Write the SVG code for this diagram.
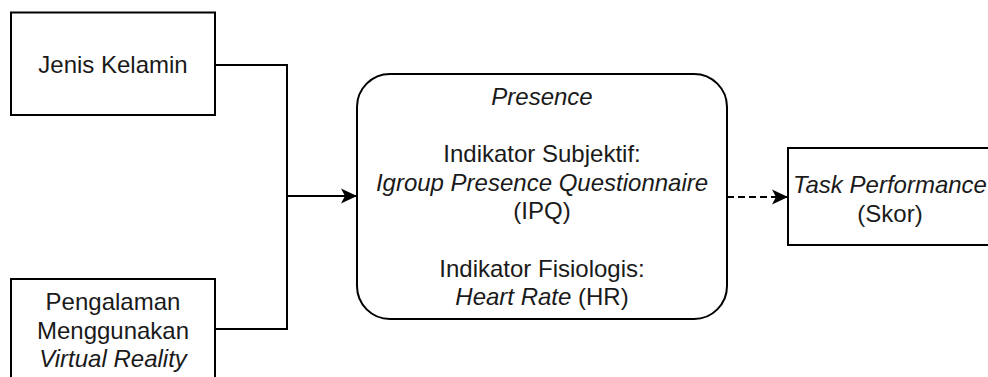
<svg xmlns="http://www.w3.org/2000/svg" width="988" height="377" viewBox="0 0 988 377">
<defs>
<style>
.box{fill:#fff;stroke:#000;stroke-width:2}
.t{font-family:"Liberation Sans",Arial,sans-serif;font-size:24px;fill:#1a1a1a;text-anchor:middle}
.i{font-style:italic}
.ln{fill:none;stroke:#000;stroke-width:2}
</style>
<marker id="arr" viewBox="0 0 16 16" refX="15" refY="8" markerWidth="16" markerHeight="16" markerUnits="userSpaceOnUse" orient="auto">
<path d="M0,0.5 L16,8 L0,15.5 L4,8 Z" fill="#000"/>
</marker>
</defs>
<rect width="988" height="377" fill="#fff"/>
<g id="connectors">
<polyline class="ln" points="215,65 287,65 287,329 215,329"/>
<line class="ln" x1="287" y1="196" x2="356" y2="196" marker-end="url(#arr)"/>
<line class="ln" x1="727" y1="197" x2="787" y2="197" stroke-dasharray="7 4" marker-end="url(#arr)"/>
</g>
<g id="jenis-kelamin">
<rect class="box" x="11" y="12.5" width="204" height="102.5"/>
<text class="t" x="113" y="73">Jenis Kelamin</text>
</g>
<g id="pengalaman">
<rect class="box" x="11" y="279" width="204" height="120"/>
<text class="t" x="113" y="310">Pengalaman</text>
<text class="t" x="113" y="338.6">Menggunakan</text>
<text class="t i" x="113" y="367.2">Virtual Reality</text>
</g>
<g id="presence">
<rect class="box" x="357" y="74" width="370" height="245" rx="33" ry="33"/>
<text class="t i" x="542" y="105">Presence</text>
<text class="t" x="542" y="162">Indikator Subjektif:</text>
<text class="t i" x="542" y="190.6">Igroup Presence Questionnaire</text>
<text class="t" x="542" y="219.2">(IPQ)</text>
<text class="t" x="542" y="276.6">Indikator Fisiologis:</text>
<text class="t" x="542" y="305.2"><tspan class="i">Heart Rate</tspan> (HR)</text>
</g>
<g id="task-performance">
<rect class="box" x="788" y="148" width="204" height="97"/>
<text class="t i" x="890" y="193">Task Performance</text>
<text class="t" x="890" y="221.6">(Skor)</text>
</g>
</svg>
